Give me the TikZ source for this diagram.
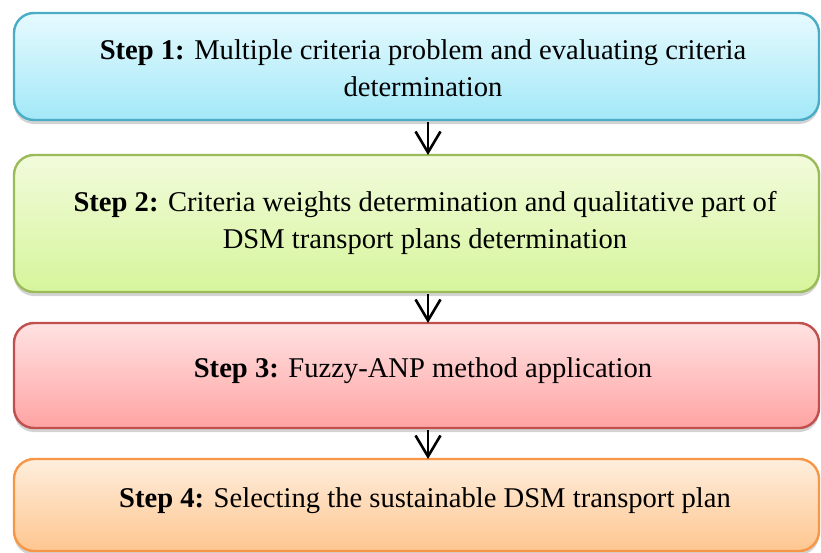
\documentclass[tikz,border=0pt]{standalone}
\usepackage{fontspec}
\setmainfont{Liberation Serif}
\usetikzlibrary{arrows.meta,shadows}
\definecolor{bA}{HTML}{4BACC6}\definecolor{tA}{HTML}{E6FAFE}\definecolor{uA}{HTML}{A3E8F8}
\definecolor{bB}{HTML}{9BBB59}\definecolor{tB}{HTML}{F2FBDC}\definecolor{uB}{HTML}{D6F59B}
\definecolor{bC}{HTML}{C0504D}\definecolor{tC}{HTML}{FFE2E2}\definecolor{uC}{HTML}{FFA3A3}
\definecolor{bD}{HTML}{F79646}\definecolor{tD}{HTML}{FEEEDD}\definecolor{uD}{HTML}{FEC690}
\tikzset{
  stepbox/.style={rounded corners=20pt, line width=2.4pt,
    drop shadow={shadow xshift=0pt, shadow yshift=-4pt, opacity=0.35, fill=gray}},
  steptext/.style={font=\fontsize{28.6}{37.5}\selectfont, align=center, text=black},
  flow/.style={line width=2.6pt, -{Straight Barb[length=21pt,width=25pt,line width=2.6pt]}}
}
\begin{document}
\begin{tikzpicture}[x=1pt,y=-1pt]
\useasboundingbox (0,0) rectangle (821,552);
\path[stepbox, draw=bA, top color=tA, bottom color=uA] (14,13) rectangle (819,120);
\path[stepbox, draw=bB, top color=tB, bottom color=uB] (14,155) rectangle (819,292);
\path[stepbox, draw=bC, top color=tC, bottom color=uC] (14,323) rectangle (819,428);
\path[stepbox, draw=bD, top color=tD, bottom color=uD] (14,459) rectangle (819,551);
\node[steptext] (s1) at (423,68) {\textbf{Step 1:} Multiple criteria problem and evaluating criteria\\determination};
\node[steptext] (s2) at (425,223) {\textbf{Step 2:} Criteria weights determination and qualitative part of\\DSM transport plans determination};
\node[steptext] (s3) at (423,371) {\textbf{Step 3:} Fuzzy-ANP method application};
\node[steptext] (s4) at (425,501) {\textbf{Step 4:} Selecting the sustainable DSM transport plan};
\coordinate (a1) at (428,122); \coordinate (b1) at (428,155);
\coordinate (a2) at (428,294); \coordinate (b2) at (428,323);
\coordinate (a3) at (428,430); \coordinate (b3) at (428,459);
\draw[flow] (a1) -- (b1);
\draw[flow] (a2) -- (b2);
\draw[flow] (a3) -- (b3);
\end{tikzpicture}
\end{document}
